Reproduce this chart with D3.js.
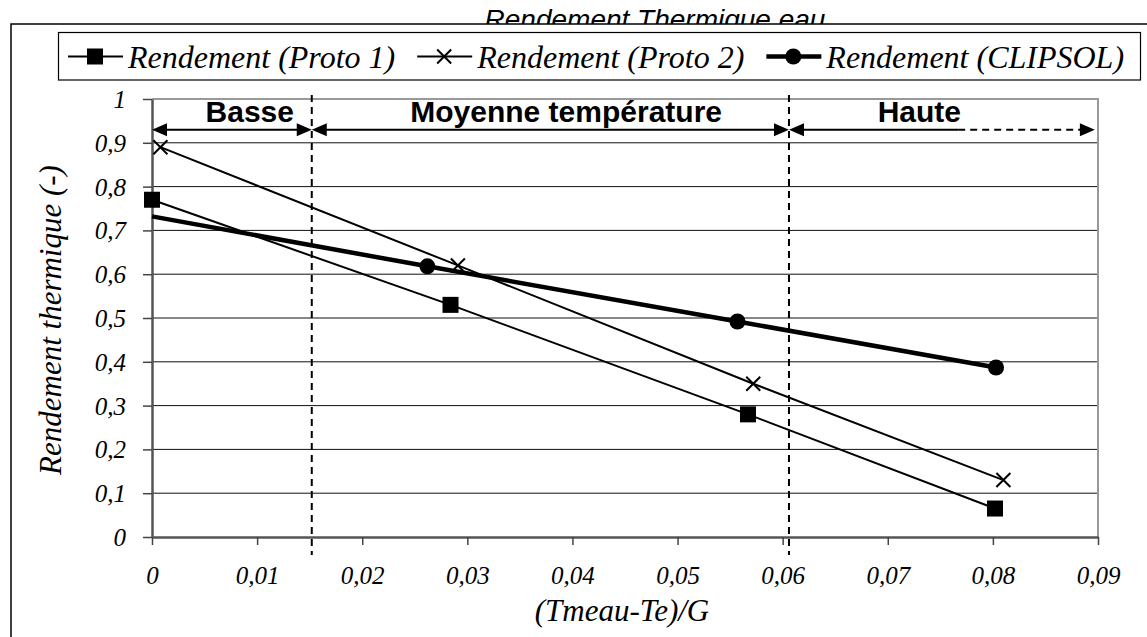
<!DOCTYPE html>
<html>
<head>
<meta charset="utf-8">
<script src="https://cdn.jsdelivr.net/npm/d3@7"></script>
<style>
	body { margin: 0; background: #fff; }
	svg { display: block; }
</style>
</head>
<body>
<div id="chart"></div>
<script>
// data
const proto1X = [0, 0.0284, 0.0567, 0.0802];
const proto1Y = [0.77, 0.53, 0.28, 0.065];
const proto2X = [0.0008, 0.0291, 0.0572, 0.081];
const proto2Y = [0.89, 0.62, 0.35, 0.13];
const clipsolX = [0, 0.0262, 0.0557, 0.0803];
const clipsolY = [0.732, 0.618, 0.492, 0.387];
const clipsolMarked = [false, true, true, true];

const seriesNames = ['Rendement (Proto 1)', 'Rendement (Proto 2)', 'Rendement (CLIPSOL)'];

const xTicks = [0, 0.01, 0.02, 0.03, 0.04, 0.05, 0.06, 0.07, 0.08, 0.09];
const yTicks = [0, 0.1, 0.2, 0.3, 0.4, 0.5, 0.6, 0.7, 0.8, 0.9, 1];

// temperature zones
const zoneBounds = [0, 0.0152, 0.0606, 0.0897];
const zoneNames = ['Basse', 'Moyenne température', 'Haute'];
const zoneLabelX = [0.0093, 0.0394, 0.073];
const zoneArrowY = 0.93;
const hauteDashFrom = 0.0767;

const titleText = 'Rendement Thermique eau';
const xTitle = '(Tmeau-Te)/G';
const yTitle = 'Rendement thermique (-)';

const WIDTH = 1147;
const HEIGHT = 637;
const PLOT = { left: 152, right: 1098, top: 99, bottom: 537 };
const SERIF = "'Liberation Serif', 'Times New Roman', Times, serif";
const SANS = "'Liberation Sans', Arial, Helvetica, sans-serif";

const locale = d3.formatLocale({ decimal: ',', thousands: ' ', grouping: [3], currency: ['', ' €'] });
const fmtX = locale.format('.2~f');
const fmtY = locale.format('.1~f');

const x = d3.scaleLinear().domain([0, 0.09]).range([PLOT.left, PLOT.right]);
const y = d3.scaleLinear().domain([0, 1]).range([PLOT.bottom, PLOT.top]);

const series = [
	{ name: seriesNames[0], marker: 'square', width: 2, pts: proto1X.map((v, i) => ({ x: v, y: proto1Y[i], m: true })) },
	{ name: seriesNames[1], marker: 'cross', width: 2, pts: proto2X.map((v, i) => ({ x: v, y: proto2Y[i], m: true })) },
	{ name: seriesNames[2], marker: 'circle', width: 4.5, pts: clipsolX.map((v, i) => ({ x: v, y: clipsolY[i], m: clipsolMarked[i] })) }
];

const serifText = ($t, size) =>
	$t.attr('font-family', SERIF).attr('font-style', 'italic').attr('font-size', size).attr('fill', '#000');

const $svg = d3.select('#chart').append('svg').attr('width', WIDTH).attr('height', HEIGHT);

// title, partly hidden behind the chart area
$svg.append('text')
	.attr('x', 655)
	.attr('y', 29)
	.attr('text-anchor', 'middle')
	.attr('font-family', SANS)
	.attr('font-style', 'italic')
	.attr('font-size', 28)
	.text(titleText);

$svg.append('rect')
	.attr('x', 11).attr('y', 24)
	.attr('width', WIDTH).attr('height', HEIGHT)
	.attr('fill', '#fff');

$svg.append('path')
	.attr('d', `M11,${HEIGHT}V24H${WIDTH}`)
	.attr('fill', 'none')
	.attr('stroke', '#000')
	.attr('stroke-width', 1.5);

function drawMarker($g, type, cx, cy) {
	if (type === 'square') {
		$g.append('rect').attr('x', cx - 8).attr('y', cy - 8).attr('width', 16).attr('height', 16).attr('fill', '#000');
	} else if (type === 'cross') {
		$g.append('path')
			.attr('d', `M${cx - 7},${cy - 7}L${cx + 7},${cy + 7}M${cx - 7},${cy + 7}L${cx + 7},${cy - 7}`)
			.attr('stroke', '#000').attr('stroke-width', 2).attr('fill', 'none');
	} else {
		$g.append('circle').attr('cx', cx).attr('cy', cy).attr('r', 8).attr('fill', '#000');
	}
}

// gridlines
$svg.append('g').selectAll('line')
	.data(yTicks.filter(d => d > 0 && d < 1))
	.join('line')
	.attr('x1', PLOT.left).attr('x2', PLOT.right)
	.attr('y1', d => y(d)).attr('y2', d => y(d))
	.attr('stroke', '#111').attr('stroke-width', 1);

// plot border top / right
$svg.append('path')
	.attr('d', `M${PLOT.left},${y(1)}H${PLOT.right}V${PLOT.bottom}`)
	.attr('fill', 'none')
	.attr('stroke', '#999')
	.attr('stroke-width', 2);

// axes
const $xAxis = $svg.append('g')
	.attr('transform', `translate(0,${PLOT.bottom})`)
	.call(d3.axisBottom(x).tickValues(xTicks).tickFormat(fmtX).tickSize(8).tickSizeOuter(0).tickPadding(21));
const $yAxis = $svg.append('g')
	.attr('transform', `translate(${PLOT.left},0)`)
	.call(d3.axisLeft(y).tickValues(yTicks).tickFormat(fmtY).tickSize(9).tickSizeOuter(0).tickPadding(17));

[$xAxis, $yAxis].forEach($a => {
	serifText($a, 25);
	$a.select('.domain').attr('stroke', '#555').attr('stroke-width', 2.5);
	$a.selectAll('.tick line').attr('stroke', '#444').attr('stroke-width', 1.5);
	$a.selectAll('.tick text').attr('fill', '#000');
});
$yAxis.selectAll('.tick text').attr('dy', '0.34em');

// axis titles
$svg.append('text')
	.attr('x', 622).attr('y', 621)
	.attr('text-anchor', 'middle')
	.call(serifText, 31)
	.text(xTitle);

$svg.append('text')
	.attr('transform', `translate(61,${(PLOT.top + PLOT.bottom) / 2 + 2}) rotate(-90)`)
	.attr('text-anchor', 'middle')
	.call(serifText, 31)
	.text(yTitle);

// zone separators
$svg.append('g').selectAll('line')
	.data(zoneBounds.slice(1, -1))
	.join('line')
	.attr('x1', d => x(d)).attr('x2', d => x(d))
	.attr('y1', 95).attr('y2', 555)
	.attr('stroke', '#000').attr('stroke-width', 2)
	.attr('stroke-dasharray', '7,5');

// zone arrows
const arrowHead = (tip, yy, dir) =>
	`M${tip},${yy}L${tip - dir * 15},${yy - 6.5}L${tip - dir * 15},${yy + 6.5}Z`;

const $zones = $svg.append('g');
const ay = y(zoneArrowY);
zoneNames.forEach((name, i) => {
	const x0 = x(zoneBounds[i]);
	const x1 = x(zoneBounds[i + 1]);
	const isLast = i === zoneNames.length - 1;
	const solidEnd = isLast ? x(hauteDashFrom) : x1 - 14;
	$zones.append('line')
		.attr('x1', x0 + 14).attr('x2', solidEnd)
		.attr('y1', ay).attr('y2', ay)
		.attr('stroke', '#000').attr('stroke-width', 2);
	if (isLast) {
		$zones.append('line')
			.attr('x1', solidEnd).attr('x2', x1 - 14)
			.attr('y1', ay).attr('y2', ay)
			.attr('stroke', '#000').attr('stroke-width', 2)
			.attr('stroke-dasharray', '7,5');
	}
	$zones.append('path').attr('d', arrowHead(x0, ay, -1)).attr('fill', '#000');
	$zones.append('path').attr('d', arrowHead(x1, ay, 1)).attr('fill', '#000');
	$zones.append('text')
		.attr('x', x(zoneLabelX[i]))
		.attr('y', ay - 7.5)
		.attr('text-anchor', 'middle')
		.attr('font-family', SANS)
		.attr('font-size', 30)
		.attr('font-weight', 'bold')
		.text(name);
});

// series lines + markers
const line = d3.line().x(d => x(d.x)).y(d => y(d.y));
const $series = $svg.append('g');
series.forEach(s => {
	$series.append('path')
		.datum(s.pts)
		.attr('d', line)
		.attr('fill', 'none')
		.attr('stroke', '#000')
		.attr('stroke-width', s.width)
		.attr('stroke-linejoin', 'round');
	const $m = $series.append('g');
	s.pts.filter(d => d.m).forEach(d => drawMarker($m, s.marker, x(d.x), y(d.y)));
});

// legend
const $legend = $svg.append('g');
$legend.append('rect')
	.attr('x', 58.5).attr('y', 32.5)
	.attr('width', 1082).attr('height', 47.5)
	.attr('fill', '#fff')
	.attr('stroke', '#000')
	.attr('stroke-width', 1.2);

let lx = 68;
const ly = 56.5;
series.forEach(s => {
	$legend.append('line')
		.attr('x1', lx).attr('x2', lx + 55)
		.attr('y1', ly).attr('y2', ly)
		.attr('stroke', '#000').attr('stroke-width', s.width);
	drawMarker($legend, s.marker, lx + 27, ly);
	const $t = $legend.append('text')
		.attr('x', lx + 60)
		.attr('y', 68)
		.call(serifText, 32)
		.text(s.name);
	lx += 60 + $t.node().getComputedTextLength() + 22;
});
</script>
</body>
</html>
